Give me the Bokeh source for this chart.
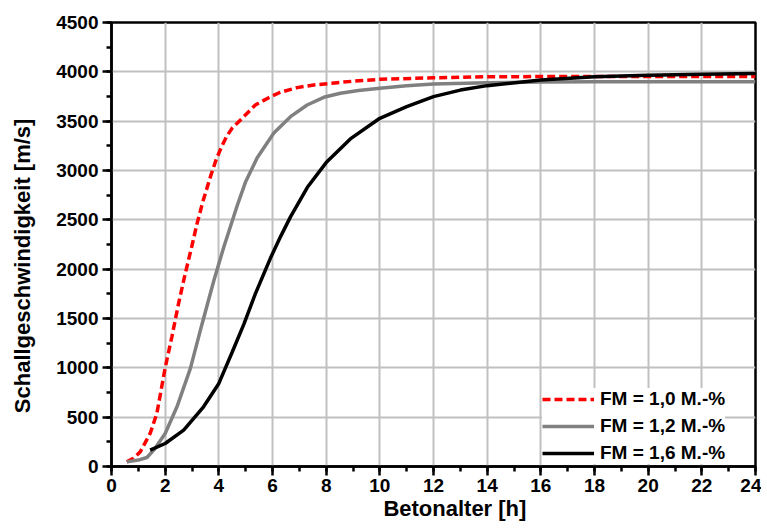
from bokeh.plotting import figure
from bokeh.models import FixedTicker, Legend, LegendItem
from bokeh.embed import file_html
from bokeh.resources import INLINE

# Data
x_fm10 = [0.57, 0.8, 1.07, 1.44, 1.69, 2.0, 2.25, 2.5, 2.75, 3.0, 3.19, 3.4, 3.69, 3.9, 4.1, 4.3, 4.5, 4.87, 5.36, 5.86, 6.29, 6.92, 7.54, 8.41, 9.2, 10.0, 12.0, 14.0, 16.0, 18.0, 20.0, 22.0, 24.0]
y_fm10 = [47, 80, 148, 335, 537, 1000, 1314, 1653, 1957, 2240, 2464, 2680, 2940, 3110, 3240, 3350, 3430, 3529, 3664, 3738, 3793, 3840, 3867, 3890, 3910, 3924, 3940, 3950, 3952, 3953, 3953, 3953, 3953]

x_fm12 = [0.57, 1.0, 1.32, 1.6, 2.0, 2.44, 2.94, 3.37, 3.81, 4.18, 4.68, 4.99, 5.43, 6.05, 6.67, 7.29, 7.91, 8.53, 9.2, 10.0, 11.0, 12.0, 14.0, 16.0, 18.0, 20.0, 22.0, 24.0]
y_fm12 = [47, 65, 91, 175, 335, 605, 994, 1440, 1880, 2220, 2640, 2880, 3130, 3380, 3546, 3664, 3742, 3783, 3810, 3833, 3860, 3877, 3890, 3897, 3900, 3900, 3900, 3900]

x_fm16 = [1.44, 2.0, 2.69, 3.43, 4.0, 4.5, 4.93, 5.36, 5.92, 6.3, 6.67, 7.3, 8.0, 8.9, 10.0, 11.0, 12.0, 13.0, 14.0, 16.0, 18.0, 20.0, 22.0, 24.0]
y_fm16 = [165, 233, 368, 605, 842, 1160, 1440, 1750, 2110, 2330, 2530, 2830, 3080, 3320, 3529, 3647, 3749, 3815, 3860, 3917, 3950, 3965, 3975, 3982]

labels = ["FM = 1,0 M.-%", "FM = 1,2 M.-%", "FM = 1,6 M.-%"]
x_title = "Betonalter [h]"
y_title = "Schallgeschwindigkeit [m/s]"
x_ticks = list(range(0, 25, 2))
x_minor = list(range(0, 25, 1))
y_ticks = list(range(0, 4501, 500))
y_minor = list(range(0, 4501, 250))

FONT = "Liberation Sans"
NB = "\u00a0"

p = figure(width=761, height=528, x_range=(0, 24), y_range=(0, 4500),
           output_backend="svg", toolbar_location=None,
           min_border_left=111, min_border_right=6, min_border_top=22, min_border_bottom=62)

p.outline_line_color = "black"
p.outline_line_width = 2.5
p.background_fill_color = "white"

for ax in (p.xaxis[0], p.yaxis[0]):
    ax.axis_line_width = 2.5
    ax.axis_line_color = "black"
    ax.major_tick_line_width = 2.5
    ax.minor_tick_line_width = 2.5
    ax.major_tick_out = 9
    ax.major_tick_in = 0
    ax.minor_tick_out = 5
    ax.minor_tick_in = 0
    ax.major_label_text_font = FONT
    ax.major_label_text_font_style = "bold"
    ax.major_label_text_font_size = "19px"
    ax.major_label_text_color = "black"
    ax.axis_label_text_font = FONT
    ax.axis_label_text_font_style = "bold"
    ax.axis_label_text_font_size = "22px"
    ax.axis_label_text_color = "black"

p.xaxis.ticker = FixedTicker(ticks=x_ticks, minor_ticks=x_minor)
p.yaxis.ticker = FixedTicker(ticks=y_ticks, minor_ticks=y_minor)
# non-breaking spaces shift the titles off-centre as in the reference
p.xaxis.axis_label = NB * 7 + x_title
p.yaxis.axis_label = y_title + NB * 7
p.xaxis.major_label_standoff = 3
p.xaxis.axis_label_standoff = 1
p.yaxis.major_label_standoff = 4
p.yaxis.axis_label_standoff = 18

p.xgrid.ticker = FixedTicker(ticks=x_ticks)
p.ygrid.ticker = FixedTicker(ticks=y_ticks)
for g in (p.xgrid[0], p.ygrid[0]):
    g.grid_line_color = "#c0c0c0"
    g.grid_line_width = 2

r1 = p.line(x_fm10, y_fm10, line_color="red", line_width=3.5, line_dash="8 4")
r2 = p.line(x_fm12, y_fm12, line_color="#808080", line_width=3.5)
r3 = p.line(x_fm16, y_fm16, line_color="black", line_width=3.5)

legend = Legend(items=[LegendItem(label=labels[0], renderers=[r1]),
                       LegendItem(label=labels[1], renderers=[r2]),
                       LegendItem(label=labels[2], renderers=[r3])],
                location=(431, 2), padding=8, margin=0, spacing=5,
                glyph_width=52, glyph_height=22, label_height=22,
                label_standoff=6, border_line_color=None,
                background_fill_color="white", background_fill_alpha=1.0,
                label_text_font=FONT, label_text_font_style="bold",
                label_text_font_size="19px", label_text_color="black")
p.add_layout(legend)

open("out.html", "w").write(file_html(p, INLINE))
